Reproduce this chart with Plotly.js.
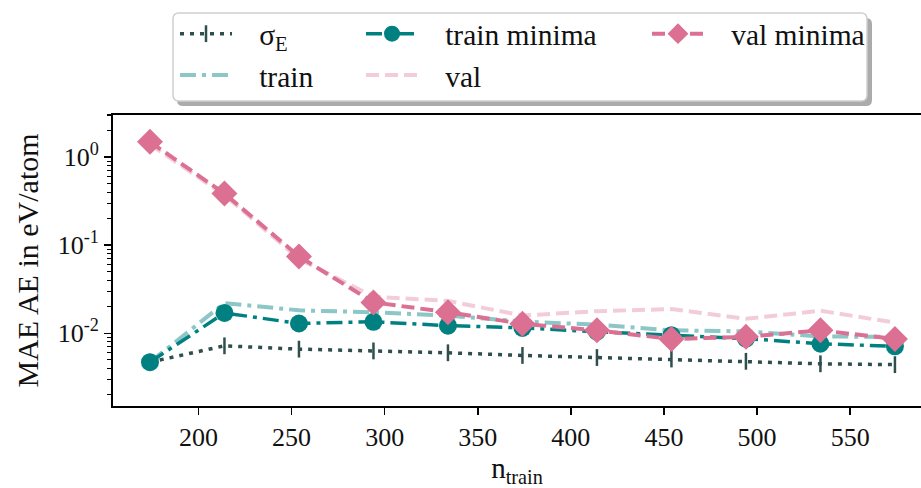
<!DOCTYPE html>
<html>
<head>
<meta charset="utf-8">
<script src="https://cdn.plot.ly/plotly-3.0.1.min.js"></script>
<style>
  html, body { margin: 0; padding: 0; background: #ffffff; }
  #chart { width: 921px; height: 488px; }
</style>
</head>
<body>
<div id="chart"></div>
<script>
// Training-set size
const nTrain = [174, 214, 254, 294, 334, 374, 414, 454, 494, 534, 574];

// Mean absolute errors in eV/atom
const sigmaE      = [0.0047, 0.0072, 0.0066, 0.0063, 0.0060, 0.0056, 0.0053, 0.0051, 0.0048, 0.0045, 0.0044];
const trainErr    = [0.0047, 0.0220, 0.0182, 0.0173, 0.0158, 0.0136, 0.0125, 0.0108, 0.0105, 0.0092, 0.0091];
const valErr      = [1.40, 0.37, 0.070, 0.026, 0.0233, 0.0159, 0.0178, 0.0188, 0.0146, 0.0180, 0.0132];
const trainMinima = [0.0047, 0.0170, 0.0129, 0.0135, 0.0122, 0.0115, 0.0104, 0.0095, 0.0087, 0.0076, 0.0071];
const valMinima   = [1.49, 0.385, 0.0746, 0.0224, 0.0173, 0.0128, 0.0108, 0.0086, 0.0091, 0.0108, 0.0086];

// Series labels
const seriesNames = ['σ<sub>E</sub>', 'train', 'val', 'train minima', 'val minima'];

// Axis ticks
const xTickVals = [200, 250, 300, 350, 400, 450, 500, 550];
const yTickVals = [1, 0.1, 0.01];
const yTickText = ['10<sup>0</sup>', '10<sup>-1</sup>', '10<sup>-2</sup>'];
const yMinorVals = [];
[0.001, 0.01, 0.1, 1].forEach(d => { for (let k = 2; k <= 9; k++) yMinorVals.push(d * k); });

const FONT = 'Liberation Serif';
const PAD = '\u00a0\u00a0\u00a0';   // gap between legend symbol and label

// Plot-area geometry in pixels, used to place the legend frame
const W = 921, H = 488;
const M = { l: 113, r: 0, t: 115, b: 82 };
const px2x = p => (p - M.l) / (W - M.l - M.r);
const py2y = p => (H - M.b - p) / (H - M.t - M.b);

function roundRect(x0, y0, x1, y1, r) {
  const X = px2x, Y = py2y;
  return 'M' + X(x0 + r) + ',' + Y(y0) +
    ' L' + X(x1 - r) + ',' + Y(y0) +
    ' Q' + X(x1) + ',' + Y(y0) + ' ' + X(x1) + ',' + Y(y0 + r) +
    ' L' + X(x1) + ',' + Y(y1 - r) +
    ' Q' + X(x1) + ',' + Y(y1) + ' ' + X(x1 - r) + ',' + Y(y1) +
    ' L' + X(x0 + r) + ',' + Y(y1) +
    ' Q' + X(x0) + ',' + Y(y1) + ' ' + X(x0) + ',' + Y(y1 - r) +
    ' L' + X(x0) + ',' + Y(y0 + r) +
    ' Q' + X(x0) + ',' + Y(y0) + ' ' + X(x0 + r) + ',' + Y(y0) + ' Z';
}

const traces = [
  {
    x: nTrain, y: sigmaE, name: PAD + seriesNames[0], legend: 'legend', legendrank: 1,
    mode: 'lines+markers',
    line: { color: '#2F4F4F', width: 3.5, dash: '4px,6px' },
    marker: { symbol: 'line-ns-open', size: 12, color: '#2F4F4F', line: { color: '#2F4F4F', width: 2.5 } }
  },
  {
    x: nTrain, y: trainErr, name: PAD + seriesNames[1], legend: 'legend', legendrank: 2,
    mode: 'lines',
    line: { color: '#8CC6C6', width: 4, dash: '16px,6px,4px,6px' }
  },
  {
    x: nTrain, y: valErr, name: PAD + seriesNames[2], legend: 'legend2', legendrank: 2,
    mode: 'lines',
    line: { color: '#F2CDD9', width: 4, dash: '13px,6px' }
  },
  {
    x: nTrain, y: trainMinima, name: PAD + seriesNames[3], legend: 'legend2', legendrank: 1,
    mode: 'lines+markers',
    line: { color: '#008080', width: 3.5, dash: '16px,6px,4px,6px' },
    marker: { symbol: 'circle', size: 18, color: '#008080' }
  },
  {
    x: nTrain, y: valMinima, name: PAD + seriesNames[4], legend: 'legend3', legendrank: 1,
    mode: 'lines+markers',
    line: { color: '#DB7093', width: 4, dash: '13px,6px' },
    marker: { symbol: 'diamond', size: 20, color: '#DB7093' }
  }
];

const legendBase = {
  orientation: 'v', xanchor: 'left', yanchor: 'top',
  bgcolor: 'rgba(0,0,0,0)', borderwidth: 0,
  font: { family: FONT, size: 29.5, color: '#111111' },
  itemwidth: 52, tracegroupgap: 0
};

const layout = {
  width: W, height: H,
  margin: M,
  paper_bgcolor: '#ffffff', plot_bgcolor: '#ffffff',
  font: { family: FONT, color: '#111111' },
  showlegend: true,
  legend:  Object.assign({}, legendBase, { x: px2x(175), y: py2y(8) }),
  legend2: Object.assign({}, legendBase, { x: px2x(361), y: py2y(8) }),
  legend3: Object.assign({}, legendBase, { x: px2x(647), y: py2y(8) }),
  xaxis: {
    type: 'linear', range: [154.15, 588],
    showgrid: false, zeroline: false,
    showline: true, linecolor: '#000000', linewidth: 2, mirror: true,
    ticks: 'outside', ticklen: 7, tickwidth: 1.5, tickcolor: '#000000',
    tickmode: 'array', tickvals: xTickVals,
    tickfont: { family: FONT, size: 26, color: '#111111' },
    title: { text: 'n<sub>train</sub>', font: { family: FONT, size: 29, color: '#111111' }, standoff: 12 }
  },
  yaxis: {
    type: 'log', range: [-2.826, 0.478],
    showgrid: false, zeroline: false,
    showline: true, linecolor: '#000000', linewidth: 2, mirror: false,
    ticks: 'outside', ticklen: 7, tickwidth: 1.5, tickcolor: '#000000',
    tickmode: 'array', tickvals: yTickVals, ticktext: yTickText,
    tickfont: { family: FONT, size: 26, color: '#111111' },
    minor: { tickmode: 'array', tickvals: yMinorVals, ticks: 'outside', ticklen: 4, tickwidth: 1.2, tickcolor: '#000000', showgrid: false },
    title: { text: 'MAE AE in eV/atom', font: { family: FONT, size: 30, color: '#111111' }, standoff: 10 }
  },
  shapes: [
    { type: 'path', xref: 'paper', yref: 'paper', layer: 'above',
      path: roundRect(177, 18, 872, 106, 6), fillcolor: '#ababab', line: { width: 0 } },
    { type: 'path', xref: 'paper', yref: 'paper', layer: 'above',
      path: roundRect(173, 13, 867, 101, 6), fillcolor: '#ffffff', line: { color: '#cfcfcf', width: 1.5 } }
  ]
};

Plotly.newPlot('chart', traces, layout, { displayModeBar: false, staticPlot: true });
</script>
</body>
</html>
